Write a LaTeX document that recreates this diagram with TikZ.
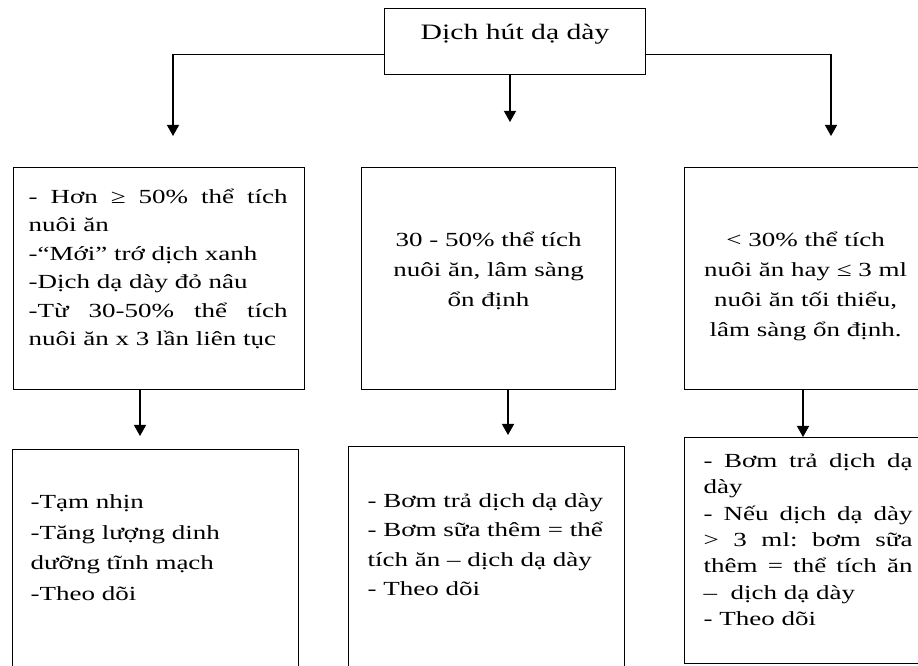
\documentclass[tikz,border=0pt]{standalone}
\usepackage{fontspec}
\setmainfont{Liberation Serif}[FakeStretch=1.35]
\usepackage{tikz}
\usetikzlibrary{arrows.meta}
\frenchspacing

% box width, box height, left pad, text width, first baseline, text
\newcommand{\cellbox}[6]{%
  \parbox[t][#2][t]{#1}{\hspace*{#3}\parbox[t]{#4}{\hyphenpenalty=10000\exhyphenpenalty=10000\rule{0pt}{#5}#6}}}

\begin{document}
\begin{tikzpicture}[
  x=1pt, y=1pt,
  panel/.style={
    draw,
    line width=1.2pt,
    inner sep=0pt,
    anchor=north west
  },
  arr/.style={-{Triangle[length=11pt,width=12pt]}, line width=1.3pt}
]
\useasboundingbox (0,0) rectangle (918,666);
\clip (0,0) rectangle (918,666);

\node[panel] (top) at (384,658) {\cellbox{261pt}{66pt}{0pt}{261pt}{31pt}{\centering\fontsize{22}{26}\selectfont Dịch hút dạ dày}};

\node[panel] (cond1) at (13,499) {\cellbox{291pt}{222pt}{15pt}{259pt}{36pt}{\fontsize{20}{28.4}\selectfont
  - Hơn ≥ 50\% thể tích\linebreak nuôi ăn\\
  -“Mới” trớ dịch xanh\\
  -Dịch dạ dày đỏ nâu\\
  -Từ 30-50\% thể tích\linebreak nuôi ăn x 3 lần liên tục}};
\node[panel] (cond2) at (361,499) {\cellbox{254pt}{222pt}{10pt}{234pt}{79pt}{\centering\fontsize{20}{30}\selectfont
  30 - 50\% thể tích\\ nuôi ăn, lâm sàng\\ ổn định}};
\node[panel] (cond3) at (684,499) {\cellbox{242pt}{222pt}{10pt}{222pt}{79pt}{\centering\fontsize{20}{30}\selectfont
  < 30\% thể tích\\ nuôi ăn hay ≤ 3 ml\\ nuôi ăn tối thiểu,\\ lâm sàng ổn định.}};

\node[panel] (act1) at (12,217) {\cellbox{286pt}{241pt}{18pt}{260pt}{59pt}{\raggedright\fontsize{20}{30.7}\selectfont
  -Tạm nhịn\\ -Tăng lượng dinh\\ dưỡng tĩnh mạch\\ -Theo dõi}};
\node[panel] (act2) at (348,220) {\cellbox{276pt}{244pt}{19pt}{250pt}{61pt}{\raggedright\fontsize{20}{29.3}\selectfont
  - Bơm trả dịch dạ dày\\ - Bơm sữa thêm = thể\\ tích ăn – dịch dạ dày\\ - Theo dõi}};
\node[panel] (act3) at (684,229) {\cellbox{242pt}{226pt}{19pt}{209pt}{30pt}{\fontsize{20}{26.3}\selectfont
  - Bơm trả dịch dạ\linebreak dày\\
  - Nếu dịch dạ dày\linebreak > 3 ml: bơm sữa\linebreak thêm = thể tích ăn\linebreak –\ \ dịch dạ dày\\
  - Theo dõi}};

\coordinate (tipL) at (173,530);
\coordinate (tipM) at (510,544);
\coordinate (tipR) at (831,530);
\coordinate (tipA) at (140,230);
\coordinate (tipB) at (508,231);
\coordinate (tipC) at (803,229);

\draw[arr] ([yshift=-13pt]top.west) -| (tipL);
\draw[arr] (top.south -| tipM) -- (tipM);
\draw[arr] ([yshift=-13pt]top.east) -| (tipR);
\draw[arr] (cond1.south -| tipA) -- (tipA);
\draw[arr] (cond2.south -| tipB) -- (tipB);
\draw[arr] (cond3.south -| tipC) -- (tipC);
\end{tikzpicture}
\end{document}
